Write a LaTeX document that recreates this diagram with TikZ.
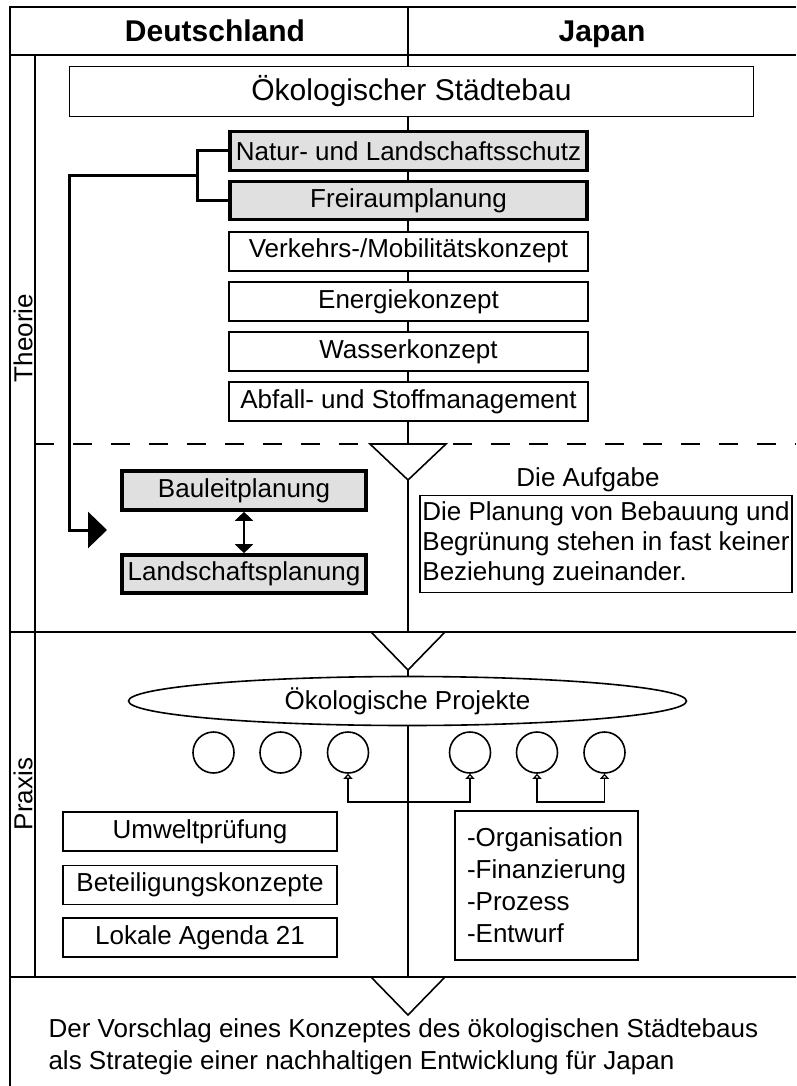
\documentclass[tikz,border=0pt]{standalone}
\usepackage{fontspec}
\setmainfont{Liberation Sans}
\usetikzlibrary{positioning,shapes.geometric,arrows.meta}

\definecolor{boxgray}{gray}{0.88}

\tikzset{
  frame/.style={line width=1.6pt},
  txt/.style={font=\fontsize{26}{30}\selectfont},
  head/.style={font=\bfseries\fontsize{30}{34}\selectfont, anchor=base},
  plainbox/.style={draw, line width=1.6pt, fill=white, inner sep=0pt, txt},
  graybox/.style={plainbox, line width=3.6pt, fill=boxgray},
  ring/.style={draw, circle, line width=1.6pt, fill=white, minimum size=41pt, inner sep=0pt},
  link/.style={line width=3pt},
  smalllink/.style={line width=1.6pt, {Triangle[open, length=5pt, width=9pt]}-{Triangle[open, length=5pt, width=9pt]}},
  funnel/.style={line width=1.6pt, fill=white}
}

\begin{document}
\begin{tikzpicture}[x=1pt, y=-1pt, line join=miter]
  % Bounding box dimensions (pixel grid, y downwards)
  \def\xmin{0} \def\xmax{796}
  \def\ymin{0} \def\ymax{1086}
  \useasboundingbox (\xmin,\ymin) rectangle (\xmax,\ymax);

  % Frame, columns and section lines
  \draw[frame] (\xmax,7) -- (10,7) -- (10,\ymax);
  \draw[frame] (10,55) -- (\xmax,55);
  \draw[frame] (35,55) -- (35,977);
  \draw[frame] (408,7) -- (408,977);
  \draw[frame] (10,632) -- (\xmax,632);
  \draw[frame] (10,977) -- (\xmax,977);
  \draw[frame, dash pattern=on 19pt off 19pt] (35,444) -- (\xmax,444);

  % Column heads and section labels
  \node[head] (de) at (215,42) {Deutschland};
  \node[head] (jp) at (602,42) {Japan};
  \node[txt, rotate=90] (theo) at (23,338) {Theorie};
  \node[txt, rotate=90] (prax) at (23,794) {Praxis};

  % Theorie
  \node[plainbox, minimum width=684pt, minimum height=50pt, font=\fontsize{30}{34}\selectfont] (oeko) at (411.5,91.5) {Ökologischer Städtebau};
  \node[graybox, minimum width=357pt, minimum height=39pt] (natur) at (408.5,151) {Natur- und Landschaftsschutz};
  \node[graybox, minimum width=357pt, minimum height=38pt] (frei) at (408.5,200.5) {Freiraumplanung};
  \foreach \txt [count=\i from 3] in {Verkehrs-/Mobilitätskonzept, Energiekonzept, Wasserkonzept, Abfall- und Stoffmanagement}
    \node[plainbox, minimum width=359pt, minimum height=39pt] (k\i) at (408.5,{151+50.1*(\i-1)}) {\txt};

  \node[graybox, minimum width=244pt, minimum height=39pt] (bauleit) at (244,490.5) {Bauleitplanung};
  \node[graybox, minimum width=244pt, minimum height=38pt] (landschaft) at (244,574) {Landschaftsplanung};

  \node[txt] (aufg) at (588,480) {Die Aufgabe};
  \node[plainbox, minimum width=372pt, minimum height=97pt, align=left] (planung) at (606,544)
    {Die Planung von Bebauung und\\Begrünung stehen in fast keiner\\Beziehung zueinander.};

  % Bracket and arrow to the plans
  \coordinate (brk) at (197,176);
  \coordinate (tip) at (107,530);
  \draw[link] (natur.west) -- ++(-31,0) |- (frei.west);
  \draw[link, -{Triangle[length=19pt, width=36pt]}] (brk) -- (69,176) |- (tip);
  \draw[line width=1.6pt, {Triangle[length=9pt, width=18pt]}-{Triangle[length=9pt, width=18pt]}] (bauleit.south) -- (landschaft.north);

  % Funnels
  \draw[funnel] (370,444) -- (446,444) -- (408,480) -- cycle;
  \draw[funnel] (371,632) -- (445,632) -- (408,670) -- cycle;
  \draw[funnel] (371,977) -- (445,977) -- (408,1015) -- cycle;

  % Praxis
  \node[ellipse, draw, line width=1.6pt, fill=white, minimum width=558pt, minimum height=49pt, inner sep=0pt, txt] (proj) at (407.5,701) {Ökologische Projekte};
  \foreach \cx [count=\i] in {213.5,280.5,348,470,537,604.5}
    \node[ring] (c\i) at (\cx,752.5) {};
  \draw[smalllink] (c3.south) -- ++(0,28) -| (c4.south);
  \draw[smalllink] (c5.south) -- ++(0,28) -| (c6.south);

  \node[plainbox, minimum width=274pt, minimum height=39pt] (umwelt) at (200,831.5) {Umweltprüfung};
  \node[plainbox, minimum width=274pt, minimum height=39pt] (beteil) at (200,885) {Beteiligungskonzepte};
  \node[plainbox, minimum width=274pt, minimum height=39pt] (agenda) at (200,937.5) {Lokale Agenda 21};

  \node[plainbox, minimum width=183pt, minimum height=149pt, align=left, font=\fontsize{26}{32}\selectfont] (aspekte) at (546.5,885.5)
    {-Organisation\\-Finanzierung\\-Prozess\\-Entwurf};

  % Conclusion
  \node[txt, anchor=west, align=left, font=\fontsize{26}{32}\selectfont] (vorschlag) at (45,1047)
    {Der Vorschlag eines Konzeptes des ökologischen Städtebaus\\als Strategie einer nachhaltigen Entwicklung für Japan};
\end{tikzpicture}
\end{document}
